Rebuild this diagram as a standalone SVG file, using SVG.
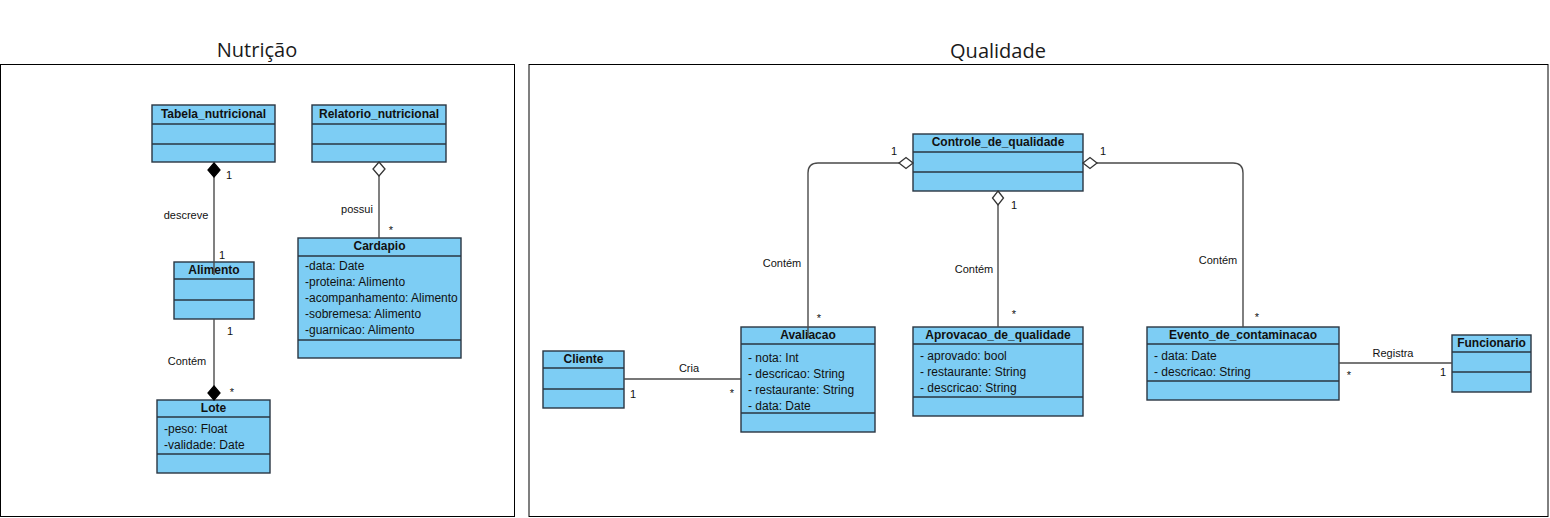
<svg xmlns="http://www.w3.org/2000/svg" width="1550" height="518" viewBox="0 0 1550 518">
<style>
.frame{fill:none;stroke:#000;stroke-width:1}
.title{font-family:"Open Sans","Noto Sans",sans-serif;font-size:20px;fill:#1a1a1a;text-anchor:middle}
.box{fill:#7dcdf4;stroke:#2a3642;stroke-width:1.4}
.sep{stroke:#2a3642;stroke-width:1.4}
.hd{font-family:"Liberation Sans",Arial,sans-serif;font-size:12px;font-weight:bold;fill:#111;text-anchor:middle}
.at{font-family:"Liberation Sans",Arial,sans-serif;font-size:12px;fill:#111}
.ln{fill:none;stroke:#4a4a4a;stroke-width:1.4}
.lb{font-family:"Liberation Sans",Arial,sans-serif;font-size:11px;fill:#111;text-anchor:middle}
.dh{fill:#fff;stroke:#333;stroke-width:1.3}
.df{fill:#000;stroke:#000;stroke-width:1.3}
</style>
<rect x="0" y="0" width="1550" height="518" fill="#fff"/>
<g id="frame-nutricao">
<rect class="frame" x="0.5" y="64.5" width="514" height="452"/>
<text class="title" x="257" y="57">Nutrição</text>
</g>
<g id="frame-qualidade">
<rect class="frame" x="529" y="64.5" width="1019" height="452"/>
<text class="title" x="998" y="58">Qualidade</text>
</g>
<g id="Tabela_nutricional">
<rect class="box" x="152" y="105" width="123" height="57"/>
<line class="sep" x1="152" y1="124" x2="275" y2="124"/>
<line class="sep" x1="152" y1="144" x2="275" y2="144"/>
<text class="hd" x="213.5" y="118">Tabela_nutricional</text>
</g>
<g id="Relatorio_nutricional">
<rect class="box" x="312" y="105" width="134" height="57"/>
<line class="sep" x1="312" y1="124" x2="446" y2="124"/>
<line class="sep" x1="312" y1="144" x2="446" y2="144"/>
<text class="hd" x="379" y="118">Relatorio_nutricional</text>
</g>
<g id="Alimento">
<rect class="box" x="174" y="262" width="80" height="57"/>
<line class="sep" x1="174" y1="279" x2="254" y2="279"/>
<line class="sep" x1="174" y1="300" x2="254" y2="300"/>
<text class="hd" x="214" y="274">Alimento</text>
</g>
<g id="Cardapio">
<rect class="box" x="298" y="238" width="163" height="120"/>
<line class="sep" x1="298" y1="256" x2="461" y2="256"/>
<line class="sep" x1="298" y1="340" x2="461" y2="340"/>
<text class="hd" x="379.5" y="250">Cardapio</text>
<text class="at" x="305" y="270">-data: Date</text>
<text class="at" x="305" y="286">-proteina: Alimento</text>
<text class="at" x="305" y="302">-acompanhamento: Alimento</text>
<text class="at" x="305" y="318">-sobremesa: Alimento</text>
<text class="at" x="305" y="334">-guarnicao: Alimento</text>
</g>
<g id="Lote">
<rect class="box" x="157" y="400" width="113" height="73"/>
<line class="sep" x1="157" y1="417" x2="270" y2="417"/>
<line class="sep" x1="157" y1="454" x2="270" y2="454"/>
<text class="hd" x="213.5" y="412">Lote</text>
<text class="at" x="164" y="433">-peso: Float</text>
<text class="at" x="164" y="449">-validade: Date</text>
</g>
<g id="Controle_de_qualidade">
<rect class="box" x="913" y="134" width="170" height="57"/>
<line class="sep" x1="913" y1="152" x2="1083" y2="152"/>
<line class="sep" x1="913" y1="172" x2="1083" y2="172"/>
<text class="hd" x="998" y="146">Controle_de_qualidade</text>
</g>
<g id="Cliente">
<rect class="box" x="543" y="351" width="81" height="57"/>
<line class="sep" x1="543" y1="368" x2="624" y2="368"/>
<line class="sep" x1="543" y1="389" x2="624" y2="389"/>
<text class="hd" x="583.5" y="363">Cliente</text>
</g>
<g id="Avaliacao">
<rect class="box" x="741" y="327" width="134" height="105"/>
<line class="sep" x1="741" y1="344" x2="875" y2="344"/>
<line class="sep" x1="741" y1="413" x2="875" y2="413"/>
<text class="hd" x="808" y="339">Avaliacao</text>
<text class="at" x="748" y="362">- nota: Int</text>
<text class="at" x="748" y="378">- descricao: String</text>
<text class="at" x="748" y="394">- restaurante: String</text>
<text class="at" x="748" y="410">- data: Date</text>
</g>
<g id="Aprovacao_de_qualidade">
<rect class="box" x="913" y="327" width="170" height="89"/>
<line class="sep" x1="913" y1="344" x2="1083" y2="344"/>
<line class="sep" x1="913" y1="397" x2="1083" y2="397"/>
<text class="hd" x="998" y="339">Aprovacao_de_qualidade</text>
<text class="at" x="920" y="360">- aprovado: bool</text>
<text class="at" x="920" y="376">- restaurante: String</text>
<text class="at" x="920" y="392">- descricao: String</text>
</g>
<g id="Evento_de_contaminacao">
<rect class="box" x="1147" y="327" width="192" height="73"/>
<line class="sep" x1="1147" y1="344" x2="1339" y2="344"/>
<line class="sep" x1="1147" y1="381" x2="1339" y2="381"/>
<text class="hd" x="1243" y="339">Evento_de_contaminacao</text>
<text class="at" x="1154" y="360">- data: Date</text>
<text class="at" x="1154" y="376">- descricao: String</text>
</g>
<g id="Funcionario">
<rect class="box" x="1452" y="335" width="79" height="57"/>
<line class="sep" x1="1452" y1="352" x2="1531" y2="352"/>
<line class="sep" x1="1452" y1="372" x2="1531" y2="372"/>
<text class="hd" x="1491.5" y="347">Funcionario</text>
</g>
<g id="connectors">
<path class="ln" d="M214 177 V275"/>
<polygon class="df" points="214,163 220,170 214,177 208,170"/>
<text class="lb" x="229" y="179">1</text>
<text class="lb" x="186" y="219">descreve</text>
<text class="lb" x="222" y="259">1</text>
<path class="ln" d="M214 319 V386"/>
<polygon class="df" points="214,386 220,393 214,400 208,393"/>
<text class="lb" x="230" y="335">1</text>
<text class="lb" x="187" y="365">Contém</text>
<text class="lb" x="232" y="396">*</text>
<path class="ln" d="M379 176 V238"/>
<polygon class="dh" points="379,162 385,169 379,176 373,169"/>
<text class="lb" x="357" y="213">possui</text>
<text class="lb" x="391" y="234">*</text>
<path class="ln" d="M899 163 H818 Q808 163 808 173 V338"/>
<polygon class="dh" points="913,163 906,168.5 899,163 906,157.5"/>
<text class="lb" x="894" y="155">1</text>
<text class="lb" x="782" y="267">Contém</text>
<text class="lb" x="819" y="322">*</text>
<path class="ln" d="M998 205 V327"/>
<polygon class="dh" points="998,191 1003.5,198 998,205 992.5,198"/>
<text class="lb" x="1014" y="209">1</text>
<text class="lb" x="974" y="273">Contém</text>
<text class="lb" x="1014" y="318">*</text>
<path class="ln" d="M1097 163 H1233 Q1243 163 1243 173 V327"/>
<polygon class="dh" points="1083,163 1090,157.5 1097,163 1090,168.5"/>
<text class="lb" x="1103" y="155">1</text>
<text class="lb" x="1218" y="264">Contém</text>
<text class="lb" x="1257" y="321">*</text>
<path class="ln" d="M624 379 H741"/>
<text class="lb" x="689" y="372">Cria</text>
<text class="lb" x="633" y="398">1</text>
<text class="lb" x="732" y="397">*</text>
<path class="ln" d="M1339 363 H1452"/>
<text class="lb" x="1393" y="357">Registra</text>
<text class="lb" x="1349" y="379">*</text>
<text class="lb" x="1443" y="376">1</text>
</g>
</svg>
